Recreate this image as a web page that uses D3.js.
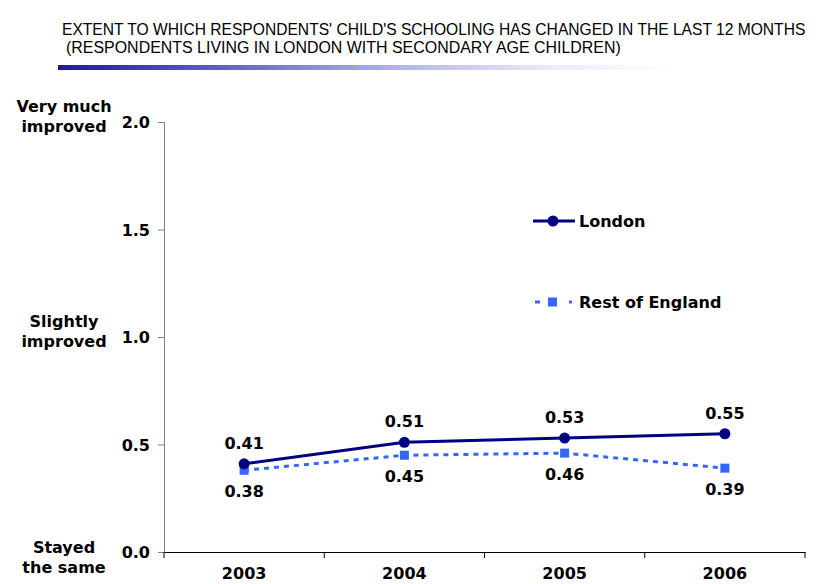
<!DOCTYPE html>
<html>
<head>
<meta charset="utf-8">
<script src="https://cdn.jsdelivr.net/npm/d3@7"></script>
<style>
  body { margin: 0; background: #fff; }
  svg { display: block; }
  .lbl { font-family: "DejaVu Sans", Verdana, sans-serif; font-weight: bold; font-size: 16px; fill: #000; }
</style>
</head>
<body>
<svg id="chart" width="822" height="584"></svg>
<script>
var years = ["2003", "2004", "2005", "2006"];
var london = [0.41, 0.51, 0.53, 0.55];
var restOfEngland = [0.38, 0.45, 0.46, 0.39];
var yTicks = [0, 0.5, 1.0, 1.5, 2.0];
var yCategories = [
  {value: 2.0, lines: ["Very much", "improved"]},
  {value: 1.0, lines: ["Slightly", "improved"]},
  {value: 0.0, lines: ["Stayed", "the same"]}
];
var titleLines = [
  "EXTENT TO WHICH RESPONDENTS' CHILD'S SCHOOLING HAS CHANGED IN THE LAST 12 MONTHS",
  "(RESPONDENTS LIVING IN LONDON WITH SECONDARY AGE CHILDREN)"
];

var svg = d3.select("#chart");

// title - squeeze each line horizontally to the width it has in the original
var titleFont = '"Liberation Sans Narrow", "Arial Narrow", "Liberation Sans", sans-serif';
[[62, 35, 744], [66, 53, 555]].forEach(function(p, i) {
  var t = svg.append("text")
    .attr("x", 0).attr("y", 0)
    .style("font-family", titleFont).style("font-size", "16px")
    .text(titleLines[i]);
  var sx = p[2] / t.node().getComputedTextLength();
  t.attr("transform", "translate(" + p[0] + "," + p[1] + ") scale(" + sx + ",1)");
});

var grad = svg.append("defs").append("linearGradient")
  .attr("id", "bar-grad").attr("x1", "0%").attr("x2", "100%");
grad.append("stop").attr("offset", "0%").attr("stop-color", "#1a1a9c");
grad.append("stop").attr("offset", "25%").attr("stop-color", "#5c5cc8");
grad.append("stop").attr("offset", "55%").attr("stop-color", "#b4b4e6");
grad.append("stop").attr("offset", "80%").attr("stop-color", "#ecebfa");
grad.append("stop").attr("offset", "100%").attr("stop-color", "#ffffff");
svg.append("rect")
  .attr("x", 58).attr("y", 65).attr("width", 620).attr("height", 5)
  .attr("fill", "url(#bar-grad)");

// scales
var x = d3.scaleBand().domain(years).range([164, 805]);
var y = d3.scaleLinear().domain([0, 2]).range([552, 122]);
var cx = function(d, i) { return x(years[i]) + x.bandwidth() / 2; };

// y axis
var yAxis = svg.append("g")
  .attr("transform", "translate(164,0)")
  .call(d3.axisLeft(y).tickValues(yTicks).tickSize(6).tickPadding(8).tickFormat(d3.format(".1f")));
yAxis.select(".domain").attr("stroke", "#808080");
yAxis.selectAll(".tick line").attr("stroke", "#808080");
yAxis.selectAll("text").attr("class", "lbl").attr("dy", "0.36em");

// x axis
var xAxis = svg.append("g")
  .attr("transform", "translate(0,552)")
  .call(d3.axisBottom(x).tickSize(0).tickPadding(16));
xAxis.select(".domain").attr("stroke", "#000");
xAxis.selectAll("text").attr("class", "lbl");
svg.append("g").selectAll("line")
  .data(d3.range(years.length + 1))
  .enter().append("line")
  .attr("x1", function(i) { return 164 + i * x.step(); })
  .attr("x2", function(i) { return 164 + i * x.step(); })
  .attr("y1", 552).attr("y2", 558)
  .attr("stroke", "#000");

// category labels left of y axis
yCategories.forEach(function(c) {
  var t = svg.append("text").attr("class", "lbl").attr("text-anchor", "middle");
  var base = c.value === 0 ? y(c.value) + 1 : y(c.value) - 10;
  c.lines.forEach(function(l, i) {
    t.append("tspan").attr("x", 64).attr("y", base + i * 20).text(l);
  });
});

var line = d3.line().x(cx).y(function(d) { return y(d); });

// Rest of England
svg.append("path").datum(restOfEngland)
  .attr("d", line).attr("fill", "none")
  .attr("stroke", "#3366ff").attr("stroke-width", 3).attr("stroke-dasharray", "5,5");
svg.append("g").selectAll("rect").data(restOfEngland).enter().append("rect")
  .attr("x", function(d, i) { return cx(d, i) - 4.5; })
  .attr("y", function(d) { return y(d) - 4.5; })
  .attr("width", 9).attr("height", 9).attr("fill", "#3366ff");

// London
svg.append("path").datum(london)
  .attr("d", line).attr("fill", "none")
  .attr("stroke", "#000080").attr("stroke-width", 3);
svg.append("g").selectAll("circle").data(london).enter().append("circle")
  .attr("cx", cx).attr("cy", function(d) { return y(d); })
  .attr("r", 5.5).attr("fill", "#000080");

// value labels
svg.append("g").selectAll("text").data(london).enter().append("text")
  .attr("class", "lbl").attr("text-anchor", "middle")
  .attr("x", cx).attr("y", function(d) { return y(d) - 15; })
  .text(function(d) { return d.toFixed(2); });
svg.append("g").selectAll("text").data(restOfEngland).enter().append("text")
  .attr("class", "lbl").attr("text-anchor", "middle")
  .attr("x", cx).attr("y", function(d) { return y(d) + 27; })
  .text(function(d) { return d.toFixed(2); });

// legend
var leg = svg.append("g");
leg.append("line").attr("x1", 533).attr("x2", 575).attr("y1", 221).attr("y2", 221)
  .attr("stroke", "#000080").attr("stroke-width", 3);
leg.append("circle").attr("cx", 553).attr("cy", 221).attr("r", 5.5).attr("fill", "#000080");
leg.append("text").attr("class", "lbl").attr("x", 579).attr("y", 227).text("London");
leg.append("line").attr("x1", 535).attr("x2", 572).attr("y1", 302).attr("y2", 302)
  .attr("stroke", "#3366ff").attr("stroke-width", 3).attr("stroke-dasharray", "5,12");
leg.append("rect").attr("x", 548).attr("y", 297.5).attr("width", 9).attr("height", 9).attr("fill", "#3366ff");
leg.append("text").attr("class", "lbl").attr("x", 579).attr("y", 308).text("Rest of England");
</script>
</body>
</html>
